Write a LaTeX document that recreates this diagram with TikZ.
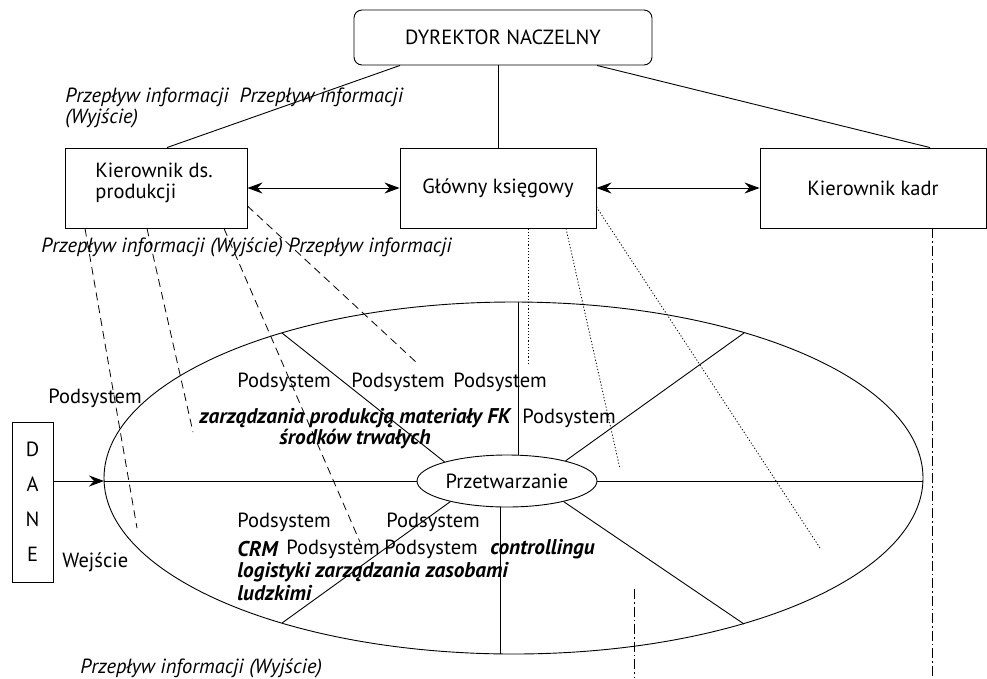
\documentclass[tikz,border=0pt]{standalone}
\usepackage{fontspec}
\setmainfont{PT Sans}
\usetikzlibrary{arrows.meta,shapes.geometric}
\begin{document}
\begin{tikzpicture}[x=1pt,y=-1pt,line width=0.9pt,
  fnt/.style={font=\fontsize{20.5}{21}\selectfont},
  box/.style={draw, inner sep=0pt, fnt},
  lbl/.style={inner sep=0pt, anchor=west, fnt},
  itl/.style={inner sep=0pt, anchor=west, font=\fontsize{20.5}{21}\selectfont\itshape},
  bit/.style={inner sep=0pt, anchor=west, font=\fontsize{21.3}{22}\selectfont\bfseries\itshape},
  dlink/.style={dash pattern=on 8pt off 5pt, line width=0.8pt},
  tlink/.style={dash pattern=on 1.2pt off 2pt, line width=0.8pt},
  ddlink/.style={dash pattern=on 10pt off 3pt on 1.5pt off 3pt, line width=0.8pt},
  harrow/.style={{Stealth[length=15pt,width=11pt,inset=5pt]}-{Stealth[length=15pt,width=11pt,inset=5pt]}}
]
\useasboundingbox (0,0) rectangle (987,678);

% boxes
\node[box, rounded corners=8pt, minimum width=298pt, minimum height=55pt] (dir) at (503,37.5) {DYREKTOR NACZELNY};
\node[box, minimum width=182pt, minimum height=80pt] (kp) at (156,188) {};
\node[lbl, align=left] (kpT) at (95,183) {Kierownik ds.\\produkcji};
\node[box, minimum width=196pt, minimum height=80pt] (gk) at (498,188) {Główny księgowy};
\node[box, minimum width=226pt, minimum height=80pt] (kk) at (873,188) {Kierownik kadr};

% hierarchy lines
\draw ([xshift=-103pt]dir.south) -- ([xshift=11pt]kp.north);
\draw (dir.south -| gk.north) -- (gk.north);
\draw ([xshift=94pt]dir.south) -- ([xshift=57pt]kk.north);
\draw[harrow] (kp.east) -- (gk.west);
\draw[harrow] (gk.east) -- (kk.west);

% ellipses
\node[draw, ellipse, minimum width=819pt, minimum height=352pt, inner sep=0pt] (big) at (513.5,478) {};
\node[draw, ellipse, minimum width=180pt, minimum height=52pt, inner sep=0pt, fnt, fill=white] (pz) at (507,481) {Przetwarzanie};

% points on the big ellipse
\coordinate (e1) at (282,333);
\coordinate (e2) at (518,302);
\coordinate (e3) at (744,333);
\coordinate (e4) at (923,481);
\coordinate (e5) at (744,624);
\coordinate (e6) at (500,654);
\coordinate (e7) at (282,623);
\coordinate (L) at (104,481);

\draw (pz.163) -- (e1);
\draw (e2) -- (e2 |- pz.north);
\draw (pz.19) -- (e3);
\draw (pz.east) -- (e4);
\draw (pz.-20) -- (e5);
\draw (e6) -- (e6 |- pz.south);
\draw (pz.-160) -- (e7);

% DANE
\node[draw, inner sep=0pt, minimum width=41pt, minimum height=160pt, align=center, font=\fontsize{20.5}{35}\selectfont] (dane) at (32.5,502) {D\\A\\N\\E};
\draw[-{Stealth[length=15pt,width=11pt,inset=5pt]}] (dane.east |- L) -- (L);
\draw (L) -- (pz.west);

% dashed links from Kierownik ds. produkcji
\coordinate (d1) at (137,528);
\coordinate (d2) at (193,432);
\coordinate (d3) at (360,542);
\coordinate (d4) at (417,363);
\draw[dlink] ([xshift=-71pt]kp.south) -- (d1);
\draw[dlink] ([xshift=-9pt]kp.south) -- (d2);
\draw[dlink] ([xshift=68pt]kp.south) -- (d3);
\draw[dlink] ([yshift=-18pt]kp.east) -- (d4);

% dotted links from Glowny ksiegowy
\coordinate (t1) at (528,363);
\coordinate (t2) at (620,469);
\coordinate (t3) at (820,548);
\draw[tlink] ([xshift=30pt]gk.south) -- (t1);
\draw[tlink] ([xshift=68pt]gk.south) -- (t2);
\draw[tlink] ([yshift=-19pt]gk.east) -- (t3);

% dash-dot links
\coordinate (b1) at (932,678);
\coordinate (b2) at (634,589);
\coordinate (b3) at (634,678);
\draw[ddlink] ([xshift=59pt]kk.south) -- (b1);
\draw[ddlink] (b2) -- (b3);

% texts
\node[itl] (i1) at (65,97) {Przepływ informacji\ \ Przepływ informacji};
\node[itl] (i2) at (65,118) {(Wyjście)};
\node[itl] (i3) at (41,247) {Przepływ informacji (Wyjście) Przepływ informacji};
\node[itl] (i4) at (80,668) {Przepływ informacji (Wyjście)};

\node[lbl] (p0) at (48,398) {Podsystem};
\node[lbl] (we) at (62,562) {Wejście};

\node[lbl] (p1) at (237,382) {Podsystem};
\node[lbl] (p2) at (351,382) {Podsystem};
\node[lbl] (p3) at (453,382) {Podsystem};
\node[bit] (zp) at (199,418) {zarządzania produkcją materiały FK};
\node[lbl] (p4) at (522,418) {Podsystem};
\node[bit] (st) at (279,439) {środków trwałych};

\node[lbl] (p5) at (237,522) {Podsystem};
\node[lbl] (p6) at (386,522) {Podsystem};
\node[bit] (crm) at (237,549) {CRM};
\node[lbl] (p7) at (286,549) {Podsystem};
\node[lbl] (p8) at (384,549) {Podsystem};
\node[bit] (co) at (490,549) {controllingu};
\node[bit] (lo) at (237,572) {logistyki zarządzania zasobami};
\node[bit] (lu) at (237,593) {ludzkimi};
\end{tikzpicture}
\end{document}
